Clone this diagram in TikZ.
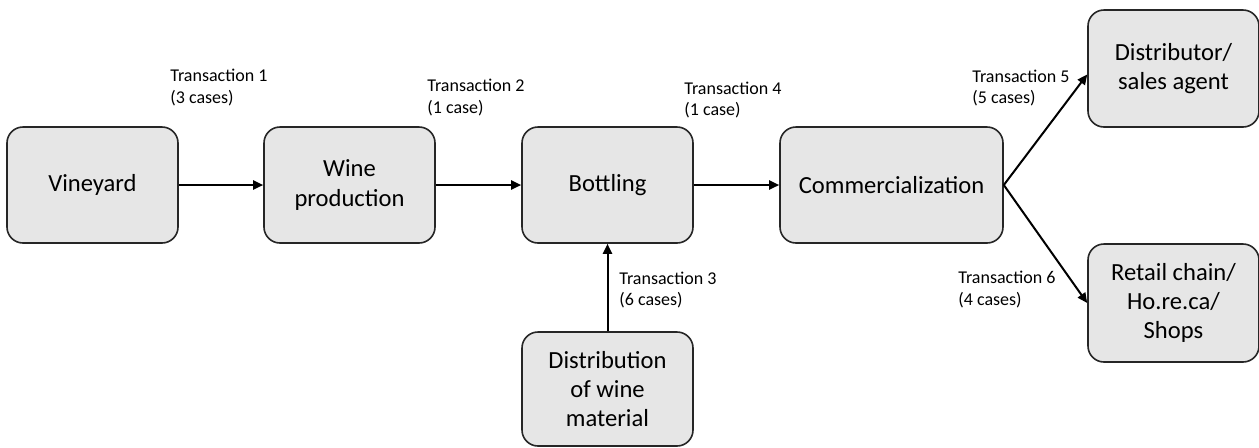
\documentclass[tikz,border=0pt]{standalone}
\usepackage{fontspec}
\setmainfont{Carlito}
\usetikzlibrary{arrows.meta}
\definecolor{boxfill}{HTML}{E6E6E6}
\definecolor{boxline}{HTML}{262626}
\tikzset{
  stagebox/.style={draw=boxline, fill=boxfill, line width=0.8pt, rounded corners=8pt,
    minimum width=85.5pt, minimum height=58pt, align=center, inner sep=2pt,
    font=\fontsize{12.3}{14.6}\selectfont},
  flow/.style={line width=1pt, -{Triangle[length=5pt,width=4.5pt]}},
  tlabel/.style={anchor=west, align=left, inner sep=0pt, font=\fontsize{9}{10.9}\selectfont}
}
\begin{document}
\begin{tikzpicture}[x=0.5pt,y=-0.5pt]
\useasboundingbox (0,0) rectangle (1259,447);
\node[stagebox] (vine) at (92.5,185) {Vineyard};
\node[stagebox] (wine) at (349.5,185) {Wine\\production};
\node[stagebox] (bott) at (607.5,185) {Bottling};
\node[stagebox, minimum width=111.5pt] (comm) at (891.5,185) {Commercialization};
\node[stagebox, minimum height=58.5pt] (dist) at (1173.5,68.5) {Distributor/\\sales agent};
\node[stagebox, minimum height=59pt] (ret) at (1173.5,303) {Retail chain/\\Ho.re.ca/\\Shops};
\node[stagebox, minimum height=57pt] (mat) at (607.5,389) {Distribution\\of wine\\material};

\draw[flow] (vine.east) -- (wine.west);
\draw[flow] (wine.east) -- (bott.west);
\draw[flow] (bott.east) -- (comm.west);
\draw[flow] (mat.north) -- (bott.south);
\draw[flow] (comm.east) -- ([yshift=-3pt]dist.west);
\draw[flow] (comm.east) -- (ret.west);

\node[tlabel] (t1) at (170,87.5) {Transaction 1\\(3 cases)};
\node[tlabel] (t2) at (427,97.5) {Transaction 2\\(1 case)};
\node[tlabel] (t4) at (684,100) {Transaction 4\\(1 case)};
\node[tlabel] (t5) at (972,88) {Transaction 5\\(5 cases)};
\node[tlabel] (t6) at (958,289.5) {Transaction 6\\(4 cases)};
\node[tlabel] (t3) at (619,290) {Transaction 3\\(6 cases)};
\end{tikzpicture}
\end{document}
